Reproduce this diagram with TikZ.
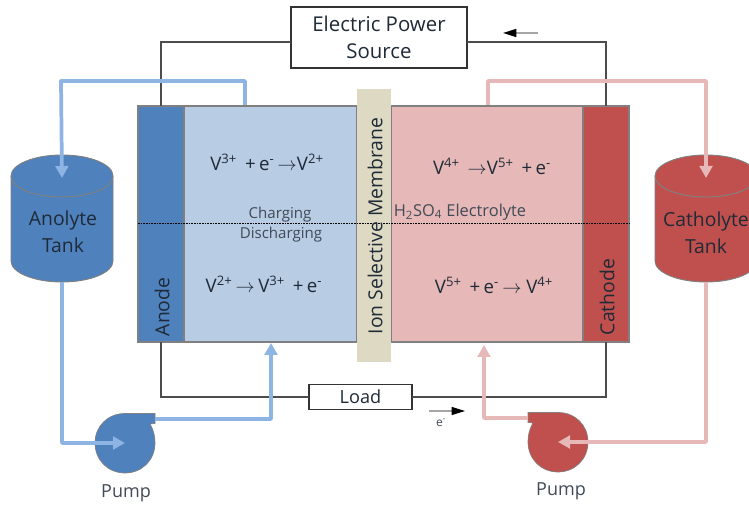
\documentclass[tikz,border=0pt]{standalone}
\usepackage{fontspec}
\setmainfont{Open Sans}
\usetikzlibrary{arrows.meta}
\definecolor{anodeblue}{HTML}{4F81BD}
\definecolor{anolyteblue}{HTML}{B8CCE4}
\definecolor{pipeblue}{HTML}{8DB4E2}
\definecolor{cathodered}{HTML}{C0504D}
\definecolor{catholytered}{HTML}{E6B9B8}
\definecolor{membranetan}{HTML}{DDD9C3}
\definecolor{inkdark}{HTML}{1F2A38}
\newcommand{\gapr}{\hspace{6pt}}
\newcommand{\gapq}{\hspace{2.5pt}}
\tikzset{
 cellpart/.style={draw=gray, line width=0.9pt, inner sep=0pt, outer sep=0pt, minimum height=177pt},
 labeltext/.style={text=inkdark, font=\fontsize{14.5}{17}\selectfont, align=center, inner sep=0pt},
 smalltext/.style={text=inkdark!85, font=\fontsize{11.3}{13}\selectfont, inner sep=0pt},
 reaction/.style={text=inkdark, font=\fontsize{14}{16}\selectfont, inner sep=0pt},
 wire/.style={draw=black!70, line width=0.8pt},
 bluepipe/.style={draw=pipeblue, line width=2.8pt, line join=round},
 redpipe/.style={draw=catholytered, line width=2.8pt, line join=round},
 pipetip/.style={-{Triangle[length=9pt,width=9.5pt]}},
 whitebox/.style={draw=black!80, line width=1.1pt, fill=white, inner sep=0pt, outer sep=0pt, align=center},
 tankside/.style={draw=gray, line width=0.7pt},
}
\begin{document}
\begin{tikzpicture}[x=0.75pt,y=-0.75pt]
\clip (0,0) rectangle (749,505);

\node[cellpart, fill=anolyteblue, minimum width=129.75pt] (anolyte) at (270.5,224) {};
\node[cellpart, fill=catholytered, minimum width=144pt] (catholyte) at (487,224) {};
\node[cellpart, fill=anodeblue, minimum width=34.5pt] (anode) at (161,224) {};
\node[cellpart, fill=cathodered, minimum width=34.5pt] (cathode) at (606,224) {};
\node[fill=membranetan, inner sep=0pt, outer sep=0pt, minimum width=25.5pt, minimum height=204.75pt] (membrane) at (374,225.5) {};

\node[whitebox, minimum width=132pt, minimum height=45.75pt, font=\fontsize{15.3}{20}\selectfont, text=inkdark] (source) at (379,37.5) {Electric Power\\Source};
\node[whitebox, minimum width=77.25pt, minimum height=18.75pt, font=\fontsize{13.6}{15}\selectfont, text=inkdark] (load) at (360.5,397) {Load};

\draw[wire] ([yshift=-3.4pt]source.west) -| (anode.north);
\draw[wire] ([yshift=-3.4pt]source.east) -| (cathode.north);
\draw[wire] (load.west) -| (anode.south);
\draw[wire] (load.east) -| (cathode.south);

\coordinate (anolytetop) at (245,105);
\coordinate (catholytetop) at (488,105);
\coordinate (anolytebottom) at (271,343);
\coordinate (catholytebottom) at (484,345);

\foreach \tx/\col/\nm in {62/anodeblue/anolytetank, 706/cathodered/catholytetank} {
 \fill[\col] (\tx-51,176) -- (\tx-51,261) arc[start angle=180,end angle=0,x radius=51,y radius=21] -- (\tx+51,176) arc[start angle=0,end angle=-180,x radius=51,y radius=21];
 \draw[tankside] (\tx-51,176) -- (\tx-51,261) arc[start angle=180,end angle=0,x radius=51,y radius=21] -- (\tx+51,176);
 \draw[tankside] (\tx,176) ellipse[x radius=51,y radius=21];
 \coordinate (\nm in) at (\tx,178);
 \coordinate (\nm out) at (\tx,282);
}

\foreach \px/\py/\col/\dir/\nm in {125/443/anodeblue/1/bluepump, 558/442/cathodered/-1/redpump} {
 \fill[\col, draw=gray, line width=0.5pt] (\px,\py-29.5) -- (\px+30*\dir,\py-29.5) -- (\px+30*\dir,\py-19.5) -- (\px+25*\dir,\py-19) .. controls (\px+29*\dir,\py-12) and (\px+30*\dir,\py-6) .. (\px+30*\dir,\py) .. controls (\px+30*\dir,\py+17) and (\px+17*\dir,\py+30) .. (\px,\py+30) .. controls (\px-17*\dir,\py+30) and (\px-30*\dir,\py+17) .. (\px-30*\dir,\py) .. controls (\px-30*\dir,\py-17) and (\px-17*\dir,\py-29.5) .. (\px,\py-29.5) -- cycle;
 \coordinate (\nm in) at (\px,\py);
 \coordinate (\nm out) at (\px+30*\dir,\py-24);
}

\draw[bluepipe, pipetip] (anolytetop) |- (61,81) -- (anolytetankin);
\draw[redpipe, pipetip] (catholytetop) |- (706,81) -- (catholytetankin);
\draw[bluepipe, pipetip] (anolytetankout) |- (bluepumpin);
\draw[redpipe, pipetip] (catholytetankout) |- (redpumpin);
\draw[bluepipe, pipetip] (bluepumpout) -| (anolytebottom);
\draw[redpipe, pipetip] (redpumpout) -| (catholytebottom);

\draw[black, line width=0.6pt, dash pattern=on 1.2pt off 0.8pt] (anode.west |- 0,223) -- (cathode.east |- 0,223);

\node[labeltext, rotate=90] (membranelabel) at (375,226) {Ion Selective Membrane};
\node[labeltext, rotate=90] (anodelabel) at (162,307) {Anode};
\node[labeltext, rotate=90] (cathodelabel) at (607,297) {Cathode};
\node[labeltext] (anolytelabel) at (63,232) {Anolyte\\[3pt]Tank};
\node[labeltext] (catholytelabel) at (706,233) {Catholyte\\[3pt]Tank};

\node[reaction] (reactiona) at (267,162) {V\textsuperscript{3+}\gapr +\gapq e\textsuperscript{-}\gapq $\rightarrow$V\textsuperscript{2+}};
\node[reaction] (reactionb) at (264,284) {V\textsuperscript{2+}\gapq $\rightarrow$\gapq V\textsuperscript{3+}\gapr +\gapq e\textsuperscript{-}};
\node[reaction] (reactionc) at (492,166) {V\textsuperscript{4+}\gapr $\rightarrow$V\textsuperscript{5+}\gapr +\gapq e\textsuperscript{-}};
\node[reaction] (reactiond) at (494,285) {V\textsuperscript{5+}\gapr +\gapq e\textsuperscript{-}\gapq $\rightarrow$ V\textsuperscript{4+}};

\node[smalltext] (charging) at (280,215) {Charging};
\node[smalltext] (discharging) at (281,235) {Discharging};
\node[smalltext, font=\fontsize{12.3}{14}\selectfont] (electrolyte) at (460,212) {H\textsubscript{2}SO\textsubscript{4} Electrolyte};

\node[smalltext, font=\fontsize{13.5}{15}\selectfont] (pumpa) at (126,493) {Pump};
\node[smalltext, font=\fontsize{13.5}{15}\selectfont] (pumpb) at (561,491) {Pump};
\node[smalltext, font=\fontsize{9}{10}\selectfont] (electron) at (441,423) {e\textsuperscript{-}};

\coordinate (flowtopstart) at (538,33);
\coordinate (flowtopend) at (503,33);
\coordinate (flowbottomstart) at (429,411);
\coordinate (flowbottomend) at (465,411);
\draw[gray!70, line width=1.2pt, -{Triangle[length=10pt,width=6pt,black]}] (flowtopstart) -- (flowtopend);
\draw[gray!70, line width=0.8pt, -{Triangle[length=10pt,width=6pt,black]}] (flowbottomstart) -- (flowbottomend);
\end{tikzpicture}
\end{document}
